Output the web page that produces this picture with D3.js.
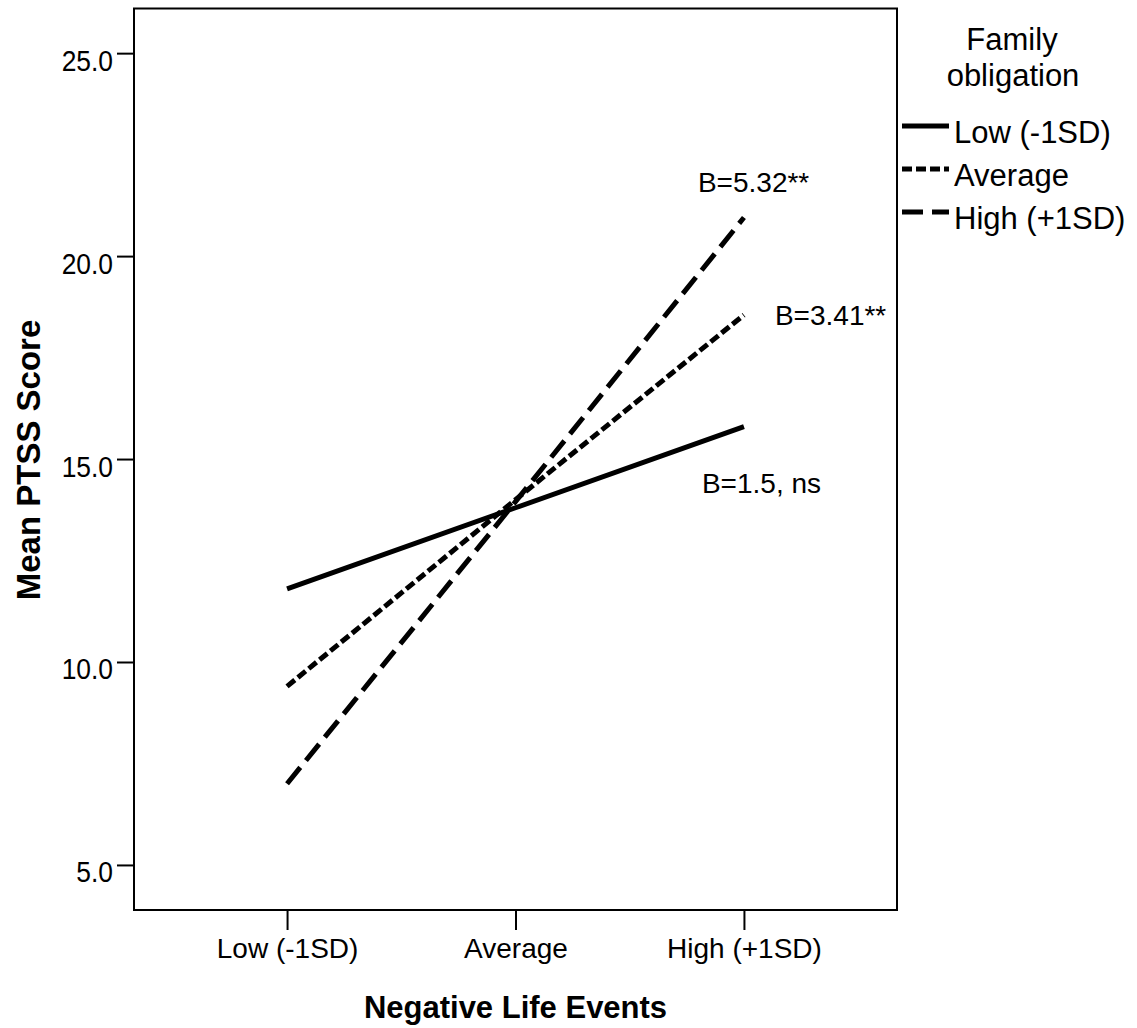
<!DOCTYPE html>
<html>
<head>
<meta charset="utf-8">
<script src="https://cdn.jsdelivr.net/npm/d3@7"></script>
<style>
  body { margin: 0; background: #fff; }
  text { font-family: "Liberation Sans", Arial, sans-serif; fill: #000; }
</style>
</head>
<body>
<div id="chart"></div>
<script>
// data
var categories = ["Low (-1SD)", "Average", "High (+1SD)"];
var seriesNames = ["Low (-1SD)", "Average", "High (+1SD)"];
var lowValues = [11.8, 13.8, 15.8];
var averageValues = [9.4, 14.0, 18.55];
var highValues = [7.0, 13.95, 20.95];
var yTicks = [5, 10, 15, 20, 25];
var slopeLabels = ["B=1.5, ns", "B=3.41**", "B=5.32**"];

var width = 1137, height = 1028;
var margin = {top: 8.5, left: 134, right: 240, bottom: 118};

var svg = d3.select("#chart")
  .append("svg")
  .attr("width", width)
  .attr("height", height);

var xScale = d3.scalePoint()
  .domain(categories)
  .range([margin.left, width - margin.right])
  .padding(0.67);

var yScale = d3.scaleLinear()
  .domain([3.89, 26.1])
  .range([height - margin.bottom, margin.top]);

var series = [
  {name: seriesNames[0], values: lowValues, dash: null, label: slopeLabels[0], dx: -42, dy: 66},
  {name: seriesNames[1], values: averageValues, dash: "10,4", label: slopeLabels[1], dx: 31, dy: 10},
  {name: seriesNames[2], values: highValues, dash: "21,9", label: slopeLabels[2], dx: -46, dy: -26}
];

// frame
svg.append("rect")
  .attr("x", margin.left)
  .attr("y", margin.top)
  .attr("width", width - margin.right - margin.left)
  .attr("height", height - margin.bottom - margin.top)
  .attr("fill", "none")
  .attr("stroke", "#000")
  .attr("stroke-width", 2);

// y axis, labels a bit condensed like the original
var yAxis = svg.append("g")
  .attr("transform", `translate(${margin.left},0)`)
  .call(d3.axisLeft(yScale).tickValues(yTicks).tickSize(17).tickPadding(4).tickFormat(d3.format(".1f")));
yAxis.select(".domain").remove();
yAxis.selectAll("line").attr("stroke-width", 2);
yAxis.selectAll("text")
  .attr("font-size", 30)
  .attr("x", -21 / 0.88)
  .attr("dy", 17)
  .attr("transform", "scale(0.88,1)")
  .attr("font-family", "\"Liberation Sans\", Arial, sans-serif");

var xAxis = svg.append("g")
  .attr("transform", `translate(0,${height - margin.bottom})`)
  .call(d3.axisBottom(xScale).tickSize(20).tickPadding(8));
xAxis.select(".domain").remove();
xAxis.selectAll("line").attr("stroke-width", 2);
xAxis.selectAll("text")
  .attr("font-size", 28)
  .attr("font-family", "\"Liberation Sans\", Arial, sans-serif");

var line = d3.line()
  .x(function(d, i) { return xScale(categories[i]); })
  .y(function(d) { return yScale(d); });

series.forEach(function(s) {
  svg.append("path")
    .datum(s.values)
    .attr("d", line)
    .attr("fill", "none")
    .attr("stroke", "#000")
    .attr("stroke-width", 5)
    .attr("stroke-dasharray", s.dash);

  var last = s.values.length - 1;
  svg.append("text")
    .attr("x", xScale(categories[last]) + s.dx)
    .attr("y", yScale(s.values[last]) + s.dy)
    .attr("font-size", 28)
    .text(s.label);
});

// axis titles
svg.append("text")
  .attr("x", xScale(categories[1]))
  .attr("y", 1018)
  .attr("text-anchor", "middle")
  .attr("font-weight", "bold")
  .attr("font-size", 31)
  .text("Negative Life Events");

svg.append("text")
  .attr("transform", "translate(40,460) rotate(-90)")
  .attr("text-anchor", "middle")
  .attr("font-weight", "bold")
  .attr("font-size", 33)
  .text("Mean PTSS Score");

// legend
var legend = svg.append("g");
legend.append("text")
  .attr("x", 1012).attr("y", 50)
  .attr("text-anchor", "middle")
  .attr("font-size", 31)
  .text("Family");
legend.append("text")
  .attr("x", 1013).attr("y", 86)
  .attr("text-anchor", "middle")
  .attr("font-size", 31)
  .text("obligation");

var legendY = [126, 169, 212];
series.forEach(function(s, i) {
  legend.append("line")
    .attr("x1", 902).attr("x2", 949)
    .attr("y1", legendY[i]).attr("y2", legendY[i])
    .attr("stroke", "#000")
    .attr("stroke-width", 5)
    .attr("stroke-dasharray", s.dash);
  legend.append("text")
    .attr("x", 954)
    .attr("y", legendY[i] + 17)
    .attr("font-size", 31)
    .text(s.name);
});
</script>
</body>
</html>
